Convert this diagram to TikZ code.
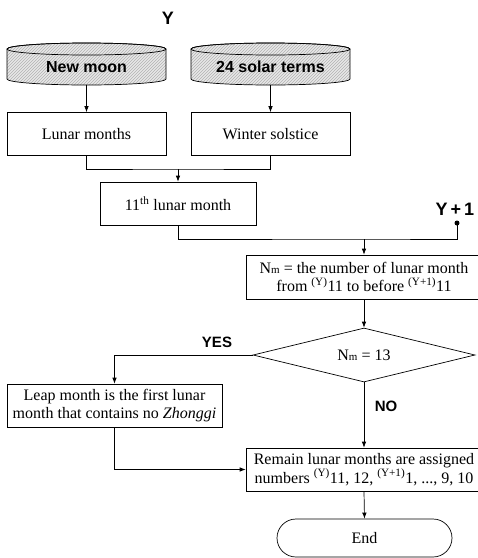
\documentclass[tikz,border=0pt]{standalone}
\usepackage{fontspec}
\setmainfont{Liberation Serif}
\newfontfamily\gothic{Liberation Sans}
\usetikzlibrary{arrows.meta,patterns,shapes.geometric}
\tikzset{
  box/.style={draw, rectangle, minimum height=43pt, align=center, inner sep=1pt, font=\fontsize{16}{18.5}\selectfont},
  dbtext/.style={minimum width=159pt, minimum height=36pt, inner sep=0pt, font=\gothic\bfseries\fontsize{16}{18}\selectfont},
  tag/.style={font=\gothic\bfseries\fontsize{18}{20}\selectfont},
  answer/.style={font=\gothic\bfseries\fontsize{15}{16}\selectfont},
  arr/.style={-{Latex[length=6pt,width=4.5pt]}},
  db/.style={draw, preaction={fill=gray!18}, pattern=north east lines, pattern color=gray!60}
}
\newcommand{\Nmonth}{N{\fontsize{11}{11}\selectfont m}}

\begin{document}
\begin{tikzpicture}[x=1pt, y=1pt, line width=0.7pt]
			%%%%% START %%%%%
			\useasboundingbox (0,0) rectangle (478,-558);
			
			\foreach \cx in {86.5, 270.5} {
				\draw[db] (\cx-79.5,-49) -- (\cx-79.5,-79) arc (180:360:79.5pt and 6pt) -- (\cx+79.5,-49) arc (0:180:79.5pt and 6pt) -- cycle;
				\draw (\cx,-49) ellipse (79.5pt and 6pt);
			}
			\node[dbtext] (moon) at (86.5,-67) {New moon};
			\node[dbtext] (terms) at (270.5,-67) {24 solar terms};
			\node[tag] (ylab) at (168,-18) {Y};
			
			\node[box, minimum width=159pt] (lunar) at (86.5,-134) {Lunar months};
			\node[box, minimum width=159pt] (winter) at (270.5,-134) {Winter solstice};
			\node[box, minimum width=156pt] (eleventh) at (178,-203.5) {11\textsuperscript{th} lunar month};
			
			\node[tag] (ynext) at (455,-209) {Y\,+\,1};
			\coordinate (ydot) at (457,-223);
			\fill (ydot) circle (2.5pt);
			
			\node[box, minimum width=236pt, minimum height=44pt] (count) at (364,-277) {\Nmonth{} = the number of lunar month\\from \textsuperscript{(Y)}11 to before \textsuperscript{(Y+1)}11};
			\node[draw, diamond, aspect=4, minimum width=222pt, minimum height=54pt, inner sep=0pt, font=\fontsize{16}{18}\selectfont] (check) at (364,-355) {\Nmonth{} = 13};
			\node[box, minimum width=215pt] (leap) at (114.5,-405.5) {Leap month is the first lunar\\month that contains no \textit{Zhonggi}};
			\node[box, minimum width=236pt] (remain) at (364,-469.5) {Remain lunar months are assigned\\numbers \textsuperscript{(Y)}11, 12, \textsuperscript{(Y+1)}1, ..., 9, 10};
			\node[box, rounded corners=19pt, minimum width=175pt, minimum height=38pt] (stop) at (364.5,-538) {End};
			
			\node[answer] (yes) at (217,-342) {YES};
			\node[answer] (no) at (386,-406) {NO};
			
			\coordinate (join1) at (178,-169);
			\coordinate (join2) at (364,-239);
			
			\draw[arr] (moon.south) -- (lunar.north);
			\draw[arr] (terms.south) -- (winter.north);
			\draw (lunar.south) |- (join1) -| (winter.south);
			\draw[arr] (join1) -- (eleventh.north);
			\draw (eleventh.south) |- (join2) -| (ydot);
			\draw[arr] (join2) -- (count.north);
			\draw[arr] (count.south) -- (check.north);
			\draw[arr] (check.west) -| (leap.north);
			\draw[arr] (check.south) -- (remain.north);
			\draw[arr] (leap.south) |- (remain.west);
			\draw[arr] (remain.south) -- (stop.north);
			%%%%% END %%%%%
\end{tikzpicture}
\end{document}
